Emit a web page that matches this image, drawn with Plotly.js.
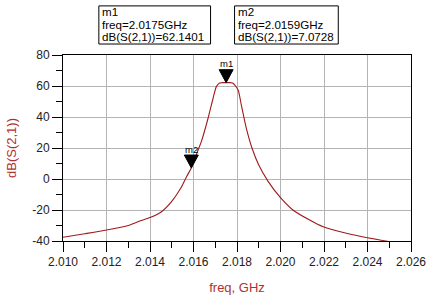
<!DOCTYPE html>
<html><head><meta charset="utf-8">
<script src="https://cdn.plot.ly/plotly-3.0.1.min.js"></script>
<style>html,body{margin:0;padding:0;background:#fff}#c{width:427px;height:298px}</style>
</head><body><div id="c"></div>
<script>
// sweep data (freq in GHz, dB(S(2,1)))
const freq = [2.0100, 2.0110, 2.0120, 2.0130, 2.0135, 2.0140, 2.01453, 2.01499, 2.01545, 2.01568, 2.0159, 2.01621, 2.01636, 2.01667, 2.0169, 2.01705, 2.0172, 2.0175, 2.0178, 2.01805, 2.0182, 2.01843, 2.0187, 2.0190, 2.01943, 2.01996, 2.02057, 2.02134, 2.02196, 2.02303, 2.0240, 2.0250];
const dbS21 = [-37.6, -35.3, -32.9, -30.0, -27.3, -24.9, -21.1, -14.6, -5.0, 1.5, 7.07, 18.7, 24.1, 39.2, 52.1, 59.6, 62.0, 62.14, 62.0, 57.4, 47.7, 32.7, 19.5, 9.0, -1.5, -11.4, -20.0, -26.5, -30.8, -35.0, -37.9, -40.4];
const markerNames = ['m1', 'm2'];
const markerFreq = [2.0175, 2.0159];
const markerDb = [62.1401, 7.0728];
const xTicks = [2.010, 2.012, 2.014, 2.016, 2.018, 2.020, 2.022, 2.024, 2.026];
const yTicks = [-40, -20, 0, 20, 40, 60, 80];

const font = 'Arial, "Liberation Sans", sans-serif';
const shapes = [];
const annotations = [];
const boxLeft = [0.103, 0.493];
markerNames.forEach((n, i) => {
  // triangle marker, tip on the data point
  shapes.push({type: 'path', xref: 'x', yref: 'y', xsizemode: 'pixel', ysizemode: 'pixel',
    xanchor: markerFreq[i], yanchor: markerDb[i], path: 'M0,0 L-7,13 L7,13 Z',
    fillcolor: '#000', line: {color: '#000', width: 1}});
  annotations.push({xref: 'x', yref: 'y', x: markerFreq[i], y: markerDb[i], yshift: 19,
    text: n, showarrow: false, font: {family: font, size: 9.5, color: '#000'}, yanchor: 'middle'});
  // readout box
  shapes.push({type: 'rect', xref: 'paper', yref: 'paper', x0: boxLeft[i], x1: boxLeft[i] + (i === 0 ? 0.321 : 0.298),
    y0: 1.059, y1: 1.264, line: {color: '#000', width: 1}, fillcolor: 'rgba(0,0,0,0)'});
  const lines = [n, 'freq=' + markerFreq[i].toFixed(4) + 'GHz', 'dB(S(2,1))=' + markerDb[i].toFixed(4)];
  lines.forEach((t, k) => {
    annotations.push({xref: 'paper', yref: 'paper', x: boxLeft[i] + 0.003, y: 1.232 - k * 0.066,
      xanchor: 'left', yanchor: 'middle', text: t, showarrow: false,
      font: {family: font, size: 11.6, color: '#000'}});
  });
});

const data = [{x: freq, y: dbS21, type: 'scatter', mode: 'lines',
  line: {color: '#9e1a1a', width: 1.1, shape: 'spline', smoothing: 0.6}, hoverinfo: 'none'}];

const layout = {
  width: 427, height: 298,
  margin: {l: 63, r: 15.5, t: 55, b: 56.5},
  paper_bgcolor: '#fff', plot_bgcolor: '#fff',
  showlegend: false,
  font: {family: font, size: 12, color: '#222'},
  xaxis: {range: [2.010, 2.026], tickvals: xTicks, ticktext: xTicks.map(v => v.toFixed(3)),
    ticks: 'outside', ticklen: 10, tickcolor: '#000', tickwidth: 1,
    minor: {dtick: 0.001, tick0: 2.010, ticks: 'outside', ticklen: 6, tickcolor: '#000', showgrid: false},
    showgrid: true, gridcolor: '#b4b4b4', gridwidth: 1, zeroline: false,
    showline: true, linecolor: '#000', linewidth: 1, mirror: true,
    tickfont: {family: font, size: 12, color: '#222'},
    title: {text: 'freq, GHz', font: {family: font, size: 13, color: '#b03030'}, standoff: 14}},
  yaxis: {range: [-40, 80], tickvals: yTicks, ticktext: yTicks.map(String),
    ticks: 'outside', ticklen: 10, tickcolor: '#000', tickwidth: 1,
    minor: {dtick: 10, tick0: -40, ticks: 'outside', ticklen: 6, tickcolor: '#000', showgrid: false},
    showgrid: true, gridcolor: '#b4b4b4', gridwidth: 1, zeroline: false,
    showline: true, linecolor: '#000', linewidth: 1, mirror: true,
    tickfont: {family: font, size: 12, color: '#222'},
    title: {text: 'dB(S(2,1))', font: {family: font, size: 13, color: '#b03030'}, standoff: 12}},
  shapes: shapes,
  annotations: annotations
};
Plotly.newPlot('c', data, layout, {staticPlot: true, displayModeBar: false});
</script></body></html>
